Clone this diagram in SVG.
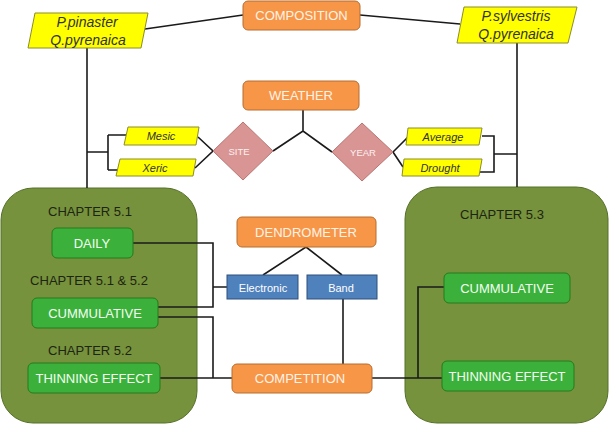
<svg xmlns="http://www.w3.org/2000/svg" width="609" height="424" viewBox="0 0 609 424">
<style>
text{font-family:"Liberation Sans",Arial,sans-serif;text-anchor:middle;dominant-baseline:central}
.org{fill:#F79646;stroke:#B66D31;stroke-width:1}
.org-t{fill:#FFF3E8;font-size:13px}
.yel{fill:#FFFF00;stroke:#8C8C2A;stroke-width:1}
.yel-t{fill:#333;font-style:italic}
.dia{fill:#D99594;stroke:#B87573;stroke-width:1}
.dia-t{fill:#FFF0F0;font-size:9.5px}
.blu{fill:#4F81BD;stroke:#2F4F7A;stroke-width:1}
.blu-t{fill:#fff;font-size:11px}
.cont{fill:#76923C;stroke:#55702A;stroke-width:1}
.grn{fill:#3BB13B;stroke:#267A1E;stroke-width:1}
.grn-t{fill:#F2FFF0;font-size:13px}
.chap{fill:#1E2412;font-size:13px}
.ln{fill:none;stroke:#1a1a1a;stroke-width:1.6}
</style>
<rect width="609" height="424" fill="#ffffff"/>
<g id="container-left"><rect class="cont" x="1" y="188" width="196" height="235" rx="32"/></g>
<g id="container-right"><rect class="cont" x="405" y="187" width="203" height="236" rx="32"/></g>
<g id="connectors">
<path class="ln" d="M145,29 L243,15"/>
<path class="ln" d="M360,15 L460,24"/>
<path class="ln" d="M87,48 L87,188"/>
<path class="ln" d="M517,43 L517,187"/>
<path class="ln" d="M87,152 L108,152 M108,135 L108,170 M108,135 L126,135 M108,170 L118,170"/>
<path class="ln" d="M482,136 L494,136 L494,172 L480,172 M494,154 L517,154"/>
<path class="ln" d="M198,137 L213,151 L195,168"/>
<path class="ln" d="M408,137 L393,152 L403,167"/>
<path class="ln" d="M303,110 L303,131 M273,151 L303,131 L332,152"/>
<path class="ln" d="M306,247 L263,275 M306,247 L342,275"/>
<path class="ln" d="M343,299 L343,364"/>
<path class="ln" d="M133,243 L213,243 L213,307 L158,307 M213,287 L227,287"/>
<path class="ln" d="M158,317 L213,317 L213,378 M160,378 L232,378"/>
<path class="ln" d="M372,378 L442,378 M418,378 L418,287 L444,287"/>
</g>
<g id="composition"><rect class="org" x="243" y="1" width="117" height="29" rx="5"/><text class="org-t" x="301.5" y="15.5">COMPOSITION</text></g>
<g id="weather"><rect class="org" x="243" y="81" width="116" height="29" rx="5"/><text class="org-t" x="301" y="95.5">WEATHER</text></g>
<g id="species-left"><polygon class="yel" points="35,13 148,13 141,48 28,48"/><text class="yel-t" x="87" y="21.5" font-size="14">P.pinaster</text><text class="yel-t" x="88" y="40" font-size="14">Q.pyrenaica</text></g>
<g id="species-right"><polygon class="yel" points="464,7 577,7 568,43 457,43"/><text class="yel-t" x="516" y="16" font-size="14">P.sylvestris</text><text class="yel-t" x="516" y="34" font-size="14">Q.pyrenaica</text></g>
<g id="mesic"><polygon class="yel" points="128,127 199,127 196,145 124,145"/><text class="yel-t" x="161" y="136" font-size="11">Mesic</text></g>
<g id="xeric"><polygon class="yel" points="120,159 196,159 193,176 116,176"/><text class="yel-t" x="155" y="167.5" font-size="11">Xeric</text></g>
<g id="average"><polygon class="yel" points="408,128 482,128 479,145 406,145"/><text class="yel-t" x="443" y="136.5" font-size="11">Average</text></g>
<g id="drought"><polygon class="yel" points="404,159 482,159 479,176 402,176"/><text class="yel-t" x="440" y="167.5" font-size="11">Drought</text></g>
<g id="site"><polygon class="dia" points="243,122 273,151 243,180 213,151"/><text class="dia-t" x="239" y="151">SITE</text></g>
<g id="year"><polygon class="dia" points="362,123 393,152 362,181 332,152"/><text class="dia-t" x="363" y="152">YEAR</text></g>
<g id="dendrometer"><rect class="org" x="237" y="217" width="139" height="30" rx="5"/><text class="org-t" x="306" y="232">DENDROMETER</text></g>
<g id="electronic"><rect class="blu" x="227" y="275" width="71" height="24"/><text class="blu-t" x="263" y="287.5">Electronic</text></g>
<g id="band"><rect class="blu" x="307" y="275" width="70" height="24"/><text class="blu-t" x="341" y="287.5">Band</text></g>
<g id="competition"><rect class="org" x="232" y="364" width="140" height="29" rx="5"/><text class="org-t" x="300" y="378.5">COMPETITION</text></g>
<g id="chapter-5-1"><text class="chap" x="90" y="211">CHAPTER 5.1</text></g>
<g id="daily"><rect class="grn" x="52" y="228" width="81" height="30" rx="5"/><text class="grn-t" x="92" y="243">DAILY</text></g>
<g id="chapter-5-1-5-2"><text class="chap" x="89" y="280">CHAPTER 5.1 &amp; 5.2</text></g>
<g id="cummulative-left"><rect class="grn" x="32" y="298" width="126" height="30" rx="5"/><text class="grn-t" x="95" y="313">CUMMULATIVE</text></g>
<g id="chapter-5-2"><text class="chap" x="90" y="350">CHAPTER 5.2</text></g>
<g id="thinning-left"><rect class="grn" x="28" y="363" width="132" height="30" rx="5"/><text class="grn-t" x="94" y="378" font-size="12.5">THINNING EFFECT</text></g>
<g id="chapter-5-3"><text class="chap" x="502" y="214">CHAPTER 5.3</text></g>
<g id="cummulative-right"><rect class="grn" x="444" y="273" width="126" height="30" rx="5"/><text class="grn-t" x="507" y="288.5">CUMMULATIVE</text></g>
<g id="thinning-right"><rect class="grn" x="442" y="361" width="132" height="30" rx="5"/><text class="grn-t" x="507" y="376" font-size="12.5">THINNING EFFECT</text></g>
</svg>
